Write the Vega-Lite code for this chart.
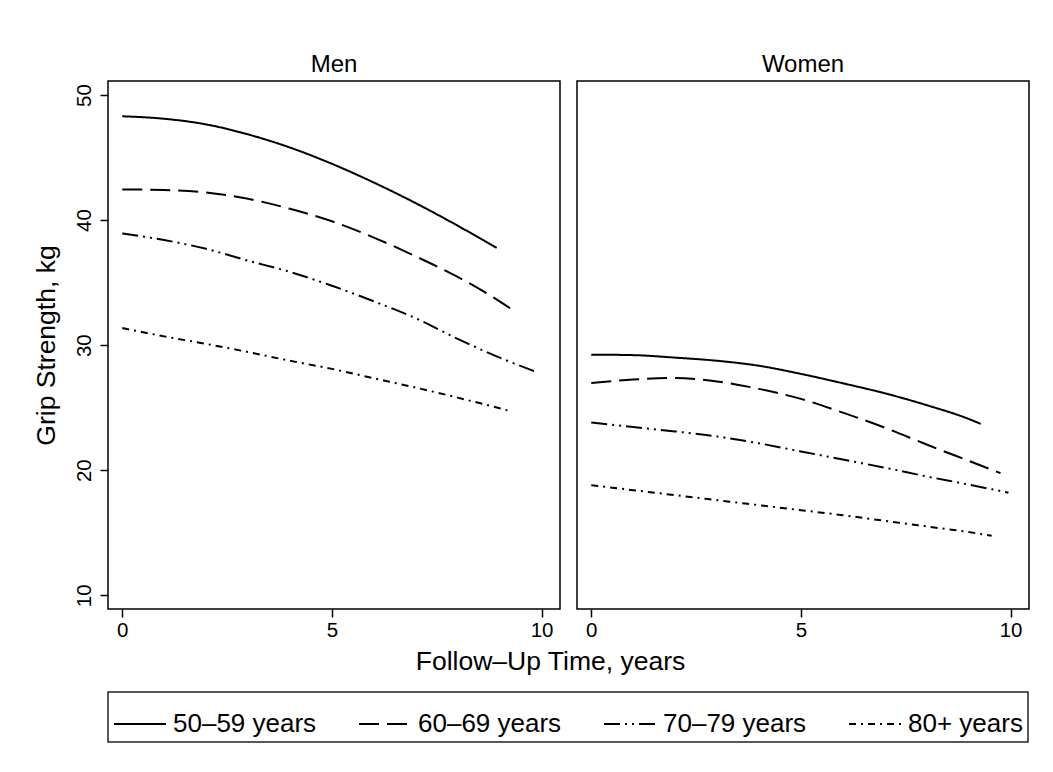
{
  "$schema": "https://vega.github.io/schema/vega-lite/v6.json",
  "background": "white",
  "padding": {"left": 32, "top": 52, "right": 20, "bottom": 5},
  "bounds": "flush",
  "spacing": 17,
  "data": {"values": [
    {"sex": "Men", "age": "50–59 years", "t": 0, "grip": 48.3},
    {"sex": "Men", "age": "50–59 years", "t": 1, "grip": 48.1},
    {"sex": "Men", "age": "50–59 years", "t": 2, "grip": 47.65},
    {"sex": "Men", "age": "50–59 years", "t": 3, "grip": 46.85},
    {"sex": "Men", "age": "50–59 years", "t": 4, "grip": 45.8},
    {"sex": "Men", "age": "50–59 years", "t": 5, "grip": 44.5},
    {"sex": "Men", "age": "50–59 years", "t": 6, "grip": 43.0},
    {"sex": "Men", "age": "50–59 years", "t": 7, "grip": 41.35},
    {"sex": "Men", "age": "50–59 years", "t": 8, "grip": 39.55},
    {"sex": "Men", "age": "50–59 years", "t": 8.93, "grip": 37.77},
    {"sex": "Men", "age": "60–69 years", "t": 0, "grip": 42.45},
    {"sex": "Men", "age": "60–69 years", "t": 1, "grip": 42.4},
    {"sex": "Men", "age": "60–69 years", "t": 2, "grip": 42.2},
    {"sex": "Men", "age": "60–69 years", "t": 3, "grip": 41.7},
    {"sex": "Men", "age": "60–69 years", "t": 4, "grip": 40.9},
    {"sex": "Men", "age": "60–69 years", "t": 5, "grip": 39.9},
    {"sex": "Men", "age": "60–69 years", "t": 6, "grip": 38.6},
    {"sex": "Men", "age": "60–69 years", "t": 7, "grip": 37.1},
    {"sex": "Men", "age": "60–69 years", "t": 8, "grip": 35.45},
    {"sex": "Men", "age": "60–69 years", "t": 9, "grip": 33.5},
    {"sex": "Men", "age": "60–69 years", "t": 9.36, "grip": 32.7},
    {"sex": "Men", "age": "70–79 years", "t": 0, "grip": 38.93},
    {"sex": "Men", "age": "70–79 years", "t": 1, "grip": 38.4},
    {"sex": "Men", "age": "70–79 years", "t": 2, "grip": 37.7},
    {"sex": "Men", "age": "70–79 years", "t": 3, "grip": 36.75},
    {"sex": "Men", "age": "70–79 years", "t": 4, "grip": 35.85},
    {"sex": "Men", "age": "70–79 years", "t": 5, "grip": 34.75},
    {"sex": "Men", "age": "70–79 years", "t": 6, "grip": 33.5},
    {"sex": "Men", "age": "70–79 years", "t": 7, "grip": 32.15},
    {"sex": "Men", "age": "70–79 years", "t": 8, "grip": 30.5},
    {"sex": "Men", "age": "70–79 years", "t": 9, "grip": 29.0},
    {"sex": "Men", "age": "70–79 years", "t": 9.88, "grip": 27.85},
    {"sex": "Men", "age": "80+ years", "t": 0, "grip": 31.37},
    {"sex": "Men", "age": "80+ years", "t": 1, "grip": 30.7},
    {"sex": "Men", "age": "80+ years", "t": 2, "grip": 30.1},
    {"sex": "Men", "age": "80+ years", "t": 3, "grip": 29.45},
    {"sex": "Men", "age": "80+ years", "t": 4, "grip": 28.75},
    {"sex": "Men", "age": "80+ years", "t": 5, "grip": 28.1},
    {"sex": "Men", "age": "80+ years", "t": 6, "grip": 27.35},
    {"sex": "Men", "age": "80+ years", "t": 7, "grip": 26.6},
    {"sex": "Men", "age": "80+ years", "t": 8, "grip": 25.8},
    {"sex": "Men", "age": "80+ years", "t": 9, "grip": 24.95},
    {"sex": "Men", "age": "80+ years", "t": 9.28, "grip": 24.7},
    {"sex": "Women", "age": "50–59 years", "t": 0, "grip": 29.24},
    {"sex": "Women", "age": "50–59 years", "t": 1, "grip": 29.2},
    {"sex": "Women", "age": "50–59 years", "t": 2, "grip": 29.0},
    {"sex": "Women", "age": "50–59 years", "t": 3, "grip": 28.75},
    {"sex": "Women", "age": "50–59 years", "t": 4, "grip": 28.35},
    {"sex": "Women", "age": "50–59 years", "t": 5, "grip": 27.7},
    {"sex": "Women", "age": "50–59 years", "t": 6, "grip": 26.95},
    {"sex": "Women", "age": "50–59 years", "t": 7, "grip": 26.15},
    {"sex": "Women", "age": "50–59 years", "t": 8, "grip": 25.2},
    {"sex": "Women", "age": "50–59 years", "t": 9, "grip": 24.1},
    {"sex": "Women", "age": "50–59 years", "t": 9.29, "grip": 23.7},
    {"sex": "Women", "age": "60–69 years", "t": 0, "grip": 26.97},
    {"sex": "Women", "age": "60–69 years", "t": 1, "grip": 27.25},
    {"sex": "Women", "age": "60–69 years", "t": 2, "grip": 27.37},
    {"sex": "Women", "age": "60–69 years", "t": 3, "grip": 27.1},
    {"sex": "Women", "age": "60–69 years", "t": 4, "grip": 26.5},
    {"sex": "Women", "age": "60–69 years", "t": 5, "grip": 25.7},
    {"sex": "Women", "age": "60–69 years", "t": 6, "grip": 24.6},
    {"sex": "Women", "age": "60–69 years", "t": 7, "grip": 23.4},
    {"sex": "Women", "age": "60–69 years", "t": 8, "grip": 22.05},
    {"sex": "Women", "age": "60–69 years", "t": 9, "grip": 20.75},
    {"sex": "Women", "age": "60–69 years", "t": 9.76, "grip": 19.76},
    {"sex": "Women", "age": "70–79 years", "t": 0, "grip": 23.82},
    {"sex": "Women", "age": "70–79 years", "t": 1, "grip": 23.45},
    {"sex": "Women", "age": "70–79 years", "t": 2, "grip": 23.1},
    {"sex": "Women", "age": "70–79 years", "t": 3, "grip": 22.7},
    {"sex": "Women", "age": "70–79 years", "t": 4, "grip": 22.15},
    {"sex": "Women", "age": "70–79 years", "t": 5, "grip": 21.5},
    {"sex": "Women", "age": "70–79 years", "t": 6, "grip": 20.85},
    {"sex": "Women", "age": "70–79 years", "t": 7, "grip": 20.2},
    {"sex": "Women", "age": "70–79 years", "t": 8, "grip": 19.5},
    {"sex": "Women", "age": "70–79 years", "t": 9, "grip": 18.85},
    {"sex": "Women", "age": "70–79 years", "t": 9.95, "grip": 18.2},
    {"sex": "Women", "age": "80+ years", "t": 0, "grip": 18.8},
    {"sex": "Women", "age": "80+ years", "t": 1, "grip": 18.4},
    {"sex": "Women", "age": "80+ years", "t": 2, "grip": 18.0},
    {"sex": "Women", "age": "80+ years", "t": 3, "grip": 17.6},
    {"sex": "Women", "age": "80+ years", "t": 4, "grip": 17.2},
    {"sex": "Women", "age": "80+ years", "t": 5, "grip": 16.8},
    {"sex": "Women", "age": "80+ years", "t": 6, "grip": 16.4},
    {"sex": "Women", "age": "80+ years", "t": 7, "grip": 15.95},
    {"sex": "Women", "age": "80+ years", "t": 8, "grip": 15.5},
    {"sex": "Women", "age": "80+ years", "t": 9, "grip": 15.05},
    {"sex": "Women", "age": "80+ years", "t": 9.55, "grip": 14.75}
  ]},
  "hconcat": [
    {
      "title": "Men",
      "transform": [{"filter": "datum.sex === 'Men'"}],
      "width": 452,
      "height": 528,
      "mark": {"type": "line", "strokeWidth": 2, "color": "black", "interpolate": "monotone"},
      "encoding": {
        "x": {
          "field": "t", "type": "quantitative",
          "scale": {"domain": [-0.34, 10.44], "nice": false, "zero": false},
          "axis": {"values": [0, 5, 10], "title": "Follow–Up Time, years", "titleX": 442, "labelPadding": 3, "titlePadding": 8}
        },
        "y": {
          "field": "grip", "type": "quantitative",
          "scale": {"domain": [8.9, 51.12], "nice": false, "zero": false},
          "axis": {"values": [10, 20, 30, 40, 50], "title": "Grip Strength, kg", "labelAngle": -90, "labelAlign": "center", "labelBaseline": "bottom", "labelPadding": 6, "titlePadding": 14}
        },
        "strokeDash": {
          "field": "age", "type": "nominal",
          "scale": {
            "domain": ["50–59 years", "60–69 years", "70–79 years", "80+ years"],
            "range": [[1, 0], [20, 8], [16, 5, 2, 5, 2, 5], [7, 5, 2, 5]]
          },
          "legend": {
            "title": null, "orient": "bottom", "direction": "horizontal",
            "symbolType": "stroke", "symbolSize": 2700, "symbolStrokeWidth": 2, "symbolStrokeColor": "black",
            "labelFontSize": 26, "labelFont": "Liberation Sans", "labelColor": "black",
            "strokeColor": "#222222", "padding": 5, "columnPadding": 38, "labelOffset": 6, "offset": 16
          }
        }
      }
    },
    {
      "title": "Women",
      "transform": [{"filter": "datum.sex === 'Women'"}],
      "width": 452,
      "height": 528,
      "mark": {"type": "line", "strokeWidth": 2, "color": "black", "interpolate": "monotone"},
      "encoding": {
        "x": {
          "field": "t", "type": "quantitative",
          "scale": {"domain": [-0.34, 10.44], "nice": false, "zero": false},
          "axis": {"values": [0, 5, 10], "title": null, "labelPadding": 3}
        },
        "y": {
          "field": "grip", "type": "quantitative",
          "scale": {"domain": [8.9, 51.12], "nice": false, "zero": false},
          "axis": null
        },
        "strokeDash": {
          "field": "age", "type": "nominal",
          "scale": {
            "domain": ["50–59 years", "60–69 years", "70–79 years", "80+ years"],
            "range": [[1, 0], [20, 8], [16, 5, 2, 5, 2, 5], [7, 5, 2, 5]]
          }
        }
      }
    }
  ],
  "config": {
    "view": {"stroke": "black", "strokeWidth": 1.5},
    "legend": {"strokeWidth": 1.5},
    "title": {"font": "Liberation Sans", "fontSize": 24, "fontWeight": "normal", "color": "black", "offset": 4, "anchor": "middle"},
    "axis": {
      "domain": false, "grid": false, "tickColor": "black", "tickSize": 8, "tickWidth": 1.5,
      "labelFont": "Liberation Sans", "labelFontSize": 20.5, "labelColor": "black",
      "titleFont": "Liberation Sans", "titleFontSize": 26.5, "titleFontWeight": "normal", "titleColor": "black"
    }
  }
}
